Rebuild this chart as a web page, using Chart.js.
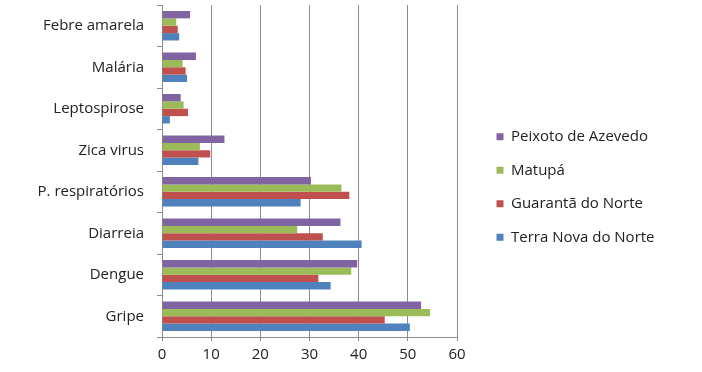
<!DOCTYPE html>
<html>
<head>
<meta charset="utf-8">
<script src="https://cdn.jsdelivr.net/npm/chart.js@4/dist/chart.umd.min.js"></script>
<style>
	html, body { margin: 0; padding: 0; background: #fff; }
	#wrap { width: 702px; height: 372px; }
</style>
</head>
<body>
<div id="wrap"><canvas id="doencasChart" width="702" height="372"></canvas></div>
<script>
const categories = ['Febre amarela', 'Malária', 'Leptospirose', 'Zica virus', 'P. respiratórios', 'Diarreia', 'Dengue', 'Gripe'];
const peixoto = [5.7, 6.9, 3.8, 12.7, 30.3, 36.3, 39.7, 52.7];
const matupa = [2.9, 4.2, 4.4, 7.7, 36.5, 27.5, 38.5, 54.5];
const guaranta = [3.2, 4.8, 5.3, 9.8, 38.1, 32.7, 31.8, 45.3];
const terraNova = [3.5, 5.1, 1.6, 7.4, 28.2, 40.6, 34.3, 50.4];
const xTicks = [0, 10, 20, 30, 40, 50, 60];

// legend box is capped by the layout, so force its width
const legendWidth = {
	id: 'legendWidth',
	beforeLayout: function(chart) {
		const lg = chart.legend;
		if (!lg || lg._fixedFit) return;
		const fit = lg.fit;
		lg.fit = function() {
			fit.call(this);
			this.width = 224;
		};
		lg._fixedFit = true;
	}
};

function drawChart() {
	const ctx = document.getElementById('doencasChart');
	const font = { family: 'Open Sans', size: 15 };

	new Chart(ctx.getContext('2d'), {
		type: 'bar',
		data: {
			labels: categories,
			datasets: [
				{ label: 'Peixoto de Azevedo', data: peixoto, backgroundColor: '#8064A2' },
				{ label: 'Matupá', data: matupa, backgroundColor: '#9BBB59' },
				{ label: 'Guarantã do Norte', data: guaranta, backgroundColor: '#C0504D' },
				{ label: 'Terra Nova do Norte', data: terraNova, backgroundColor: '#4F81BD' }
			]
		},
		options: {
			indexAxis: 'y',
			responsive: false,
			animation: false,
			datasets: { bar: { categoryPercentage: 0.71, barPercentage: 1.0 } },
			layout: { padding: { left: 0, top: 5, right: 0, bottom: 3 } },
			scales: {
				x: {
					min: 0,
					max: 60,
					afterBuildTicks: function(scale) {
						scale.ticks = xTicks.map(v => ({ value: v }));
					},
					grid: { color: '#8c8c8c', tickLength: 4 },
					border: { color: '#8c8c8c' },
					ticks: { font: font, color: '#222', padding: 5 }
				},
				y: {
					grid: { drawOnChartArea: false, color: '#8c8c8c', tickLength: 5 },
					border: { color: '#8c8c8c' },
					ticks: { font: font, color: '#222', padding: 13 },
					afterFit: function(scale) {
						scale.width = 162;
						scale.paddingTop = 0;
						scale.paddingBottom = 0;
					}
				},
				// empty spacer between plot and legend
				gap: {
					type: 'category',
					position: 'right',
					display: true,
					grid: { display: false },
					border: { display: false },
					ticks: { display: false },
					afterFit: function(scale) { scale.width = 21; }
				}
			},
			plugins: {
				legend: {
					position: 'right',
					labels: {
						font: font,
						color: '#222',
						boxWidth: 7,
						boxHeight: 7,
						padding: 18.5
					}
				},
				tooltip: { enabled: false }
			}
		},
		plugins: [legendWidth]
	});
}

document.addEventListener('DOMContentLoaded', function() {
	document.fonts.load('15px "Open Sans"').then(drawChart, drawChart);
});
</script>
</body>
</html>
